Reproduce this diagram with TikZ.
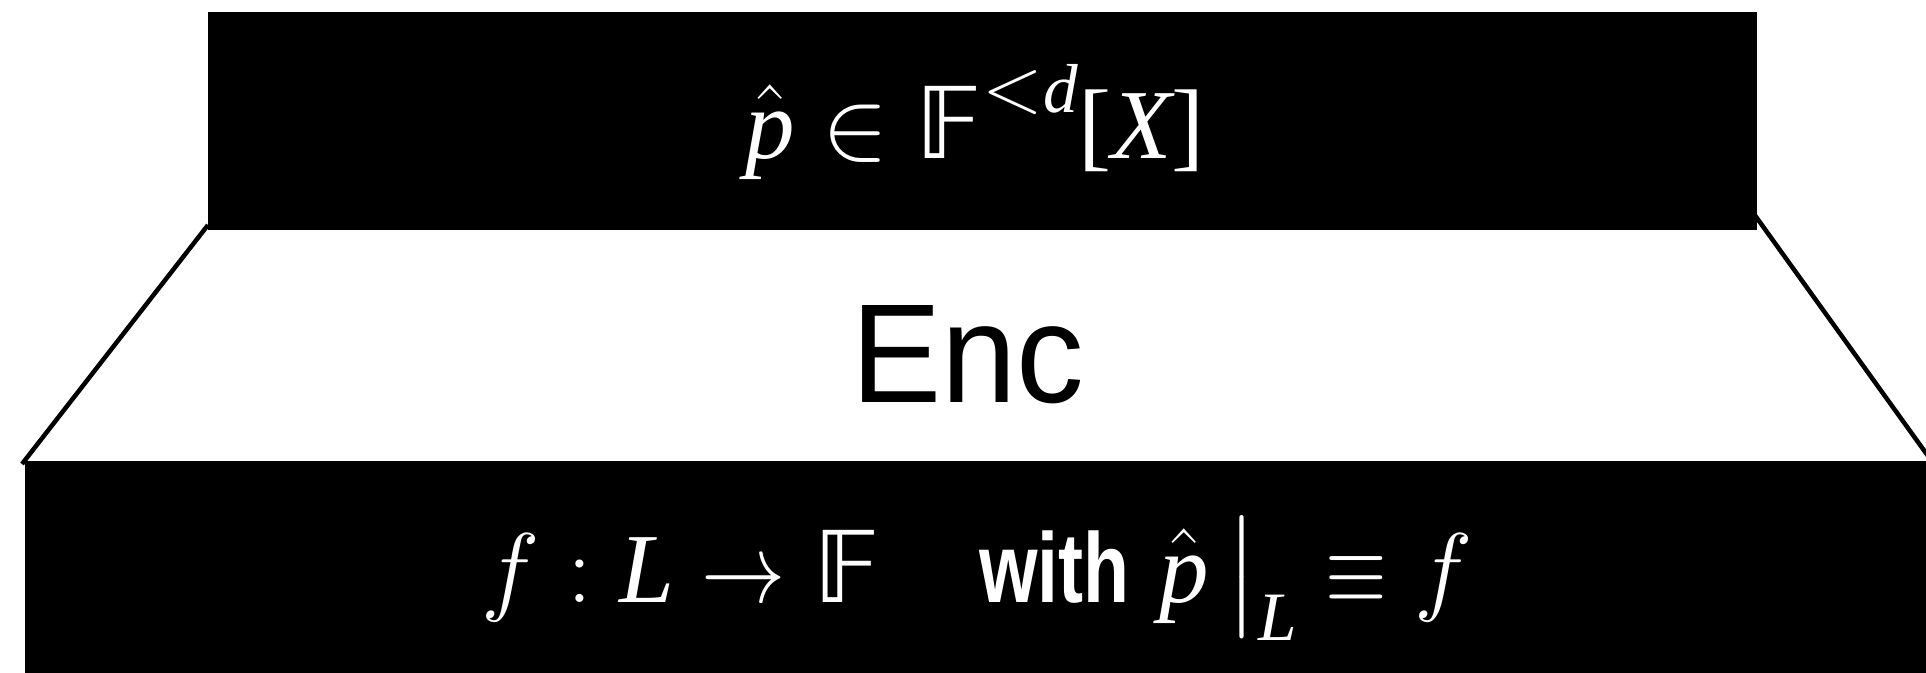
\RequirePackage{fix-cm}
\documentclass[tikz,border=0pt]{standalone}
\usepackage{amsmath,amssymb}
\usepackage{graphicx}
\usepackage{fontspec}
\newfontfamily\sansf{Liberation Sans}
\newfontfamily\tmsfam{Liberation Serif}
\newfontfamily\djv{DejaVu Sans}
\newcommand\mv[1]{\text{\tmsfam\itshape #1}}
\newcommand\mr[1]{\text{\tmsfam #1}}
\newcommand\dsF{\text{\djv 𝔽}}
\begin{document}
\begin{tikzpicture}[x=1pt,y=-1pt,
  blockbox/.style={fill=black,draw=none,inner sep=0pt,outer sep=0pt,anchor=north west},
  lbl/.style={text=white,inner sep=0pt,anchor=base},
  side/.style={line width=4.5pt,black}]
\useasboundingbox (0,0) rectangle (1926,672);
% trapezoid sides
\coordinate (tl) at (208,225);
\coordinate (bl) at (22,464);
\coordinate (tr) at (1754,214);
\coordinate (br) at (1928,456);
\draw[side] (tl) -- (bl);
\draw[side] (tr) -- (br);
% blocks
\node[blockbox,minimum width=1549pt,minimum height=217.5pt] (in) at (208,12.3) {};
\node[blockbox,minimum width=1902pt,minimum height=212pt] (out) at (25,461) {};
% labels
\node[lbl] (intxt) at (975,158) {\fontsize{99}{110}\selectfont $\hat{\mv{p}} \in \dsF^{\scalebox{1.15}{$\scriptstyle<$}\mv{d}}\mr{[}\mv{X}\mr{]}$};
\node[inner sep=0pt,anchor=base] (enc) at (968,402) {\fontsize{141}{150}\selectfont\sansf\scalebox{0.96}[1]{Enc}};
\node[lbl] (outtxt) at (977,602) {\fontsize{99}{110}\selectfont $f : \mv{L} \mathrel{\scalebox{0.85}[1]{$\to$}} \dsF \quad \text{\sansf\bfseries\scalebox{0.76}[1]{with}}\ \hat{\mv{p}}\,\big|_{\mv{L}} \mathrel{\scalebox{0.8}[1]{$\equiv$}} f$};
\end{tikzpicture}
\end{document}
